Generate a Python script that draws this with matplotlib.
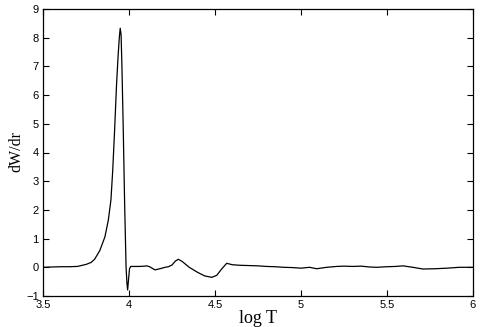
import matplotlib
matplotlib.use("Agg")
import matplotlib.pyplot as plt

log_t = [3.50, 3.55, 3.60, 3.65, 3.70, 3.75, 3.78, 3.80, 3.83, 3.86, 3.88, 3.895,
         3.905, 3.915, 3.928, 3.937, 3.944, 3.949, 3.954, 3.959, 3.967, 3.975, 3.983,
         3.988, 3.992, 3.997, 4.003, 4.010, 4.016, 4.03, 4.06, 4.09, 4.103, 4.12,
         4.151, 4.18, 4.21, 4.229, 4.25, 4.27, 4.287, 4.31, 4.35, 4.40, 4.44, 4.481,
         4.51, 4.54, 4.568, 4.60, 4.645, 4.70, 4.75, 4.80, 4.85, 4.90, 4.95, 5.00,
         5.05, 5.091, 5.15, 5.207, 5.25, 5.30, 5.35, 5.40, 5.44, 5.50, 5.55, 5.593,
         5.65, 5.709, 5.78, 5.85, 5.92, 6.00]
dw_dr = [0.00, 0.01, 0.02, 0.02, 0.03, 0.10, 0.17, 0.28, 0.58, 1.06, 1.65, 2.35,
         3.34, 4.60, 6.42, 7.40, 8.03, 8.33, 8.10, 6.98, 4.68, 2.10, 0.00,
         -0.55, -0.79, -0.45, -0.05, 0.03, 0.03, 0.03, 0.03, 0.04, 0.05, 0.02,
         -0.09, -0.05, 0.00, 0.02, 0.08, 0.22, 0.28, 0.20, 0.00, -0.18, -0.30, -0.35,
         -0.28, -0.05, 0.14, 0.09, 0.07, 0.06, 0.05, 0.03, 0.02, 0.00, -0.01, -0.03,
         0.00, -0.05, 0.00, 0.03, 0.04, 0.03, 0.04, 0.01, 0.00, 0.02, 0.03, 0.05,
         0.00, -0.06, -0.05, -0.03, 0.00, 0.00]

x_ticks = [3.5, 4, 4.5, 5, 5.5, 6]
x_tick_labels = ["3.5", "4", "4.5", "5", "5.5", "6"]
y_ticks = [-1, 0, 1, 2, 3, 4, 5, 6, 7, 8, 9]
y_tick_labels = ["\u22121", "0", "1", "2", "3", "4", "5", "6", "7", "8", "9"]

fig = plt.figure(figsize=(4.8, 3.27), dpi=100)
ax = fig.add_axes([43/480, 1 - 296/327, (473-43)/480, (296-9)/327])
ax.plot(log_t, dw_dr, color="black", linewidth=0.9)
ax.set_xlim(3.5, 6)
ax.set_ylim(-1, 9)
ax.set_xticks(x_ticks)
ax.set_xticklabels(x_tick_labels, family="Liberation Sans", fontsize=8)
ax.set_yticks(y_ticks)
ax.set_yticklabels(y_tick_labels, family="Liberation Sans", fontsize=8)
ax.tick_params(direction="in", length=4, width=0.8, top=True, right=True, pad=3)
for s in ax.spines.values():
    s.set_linewidth(0.9)
ax.set_xlabel("log T", family="Liberation Serif", fontsize=13)
ax.set_ylabel("dW/dr", family="Liberation Serif", fontsize=11.5)
ax.xaxis.set_label_coords(0.5, -0.080)
ax.yaxis.set_label_coords(-0.063, 0.505)
ax.xaxis.label.set_va("center")
ax.yaxis.label.set_va("center")
fig.savefig("out.png", dpi=100)
